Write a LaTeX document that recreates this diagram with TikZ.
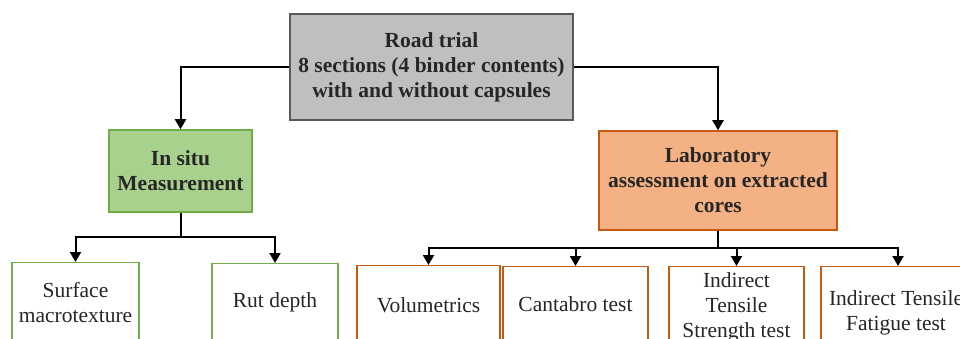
\documentclass[tikz,border=0pt]{standalone}
\usepackage{fontspec}
\setmainfont{Liberation Serif}
\usetikzlibrary{arrows.meta}
\definecolor{grayfill}{HTML}{BFBFBF}
\definecolor{grayline}{HTML}{595959}
\definecolor{greenfill}{HTML}{A9D18E}
\definecolor{greenline}{HTML}{70AD47}
\definecolor{orangefill}{HTML}{F4B183}
\definecolor{orangeline}{HTML}{C55A11}
\definecolor{txt}{HTML}{262626}
\begin{document}
\begin{tikzpicture}[x=1pt,y=-1pt,
  box/.style={draw, line width=1.5pt, inner sep=0pt, align=center, font=\bfseries\fontsize{21.5}{25}\selectfont, text=txt},
  leaf/.style={draw, line width=1.3pt, fill=white, inner sep=0pt, anchor=north},
  lbl/.style={align=center, font=\fontsize{21.5}{25}\selectfont, text=txt, inner sep=0pt},
  arr/.style={line width=2pt, -{Triangle[width=11pt,length=10pt]}},
  ln/.style={line width=2pt}]
\useasboundingbox (0,0) rectangle (960,339);
\clip (0,0) rectangle (960,339);
\node[box, fill=grayfill, draw=grayline, minimum width=283pt, minimum height=106pt] (road) at (431.5,67) {Road trial\\8 sections (4 binder contents)\\with and without capsules};
\node[box, fill=greenfill, draw=greenline, minimum width=143pt, minimum height=82pt] (insitu) at (180.5,171) {In situ\\Measurement};
\node[box, fill=orangefill, draw=orangeline, minimum width=238pt, minimum height=99pt] (lab) at (718,180.5) {Laboratory\\assessment on extracted\\cores};
% leaves
\node[leaf, draw=greenline, minimum width=127pt, minimum height=100pt] (surf) at (75.5,262) {};
\node[leaf, draw=greenline, minimum width=126pt, minimum height=100pt] (rut) at (275,263) {};
\node[leaf, draw=orangeline, minimum width=143pt, minimum height=100pt] (vol) at (428.5,265) {};
\node[leaf, draw=orangeline, minimum width=145pt, minimum height=100pt] (cant) at (575.5,266) {};
\node[leaf, draw=orangeline, minimum width=135pt, minimum height=100pt] (its) at (736.5,266) {};
\node[leaf, draw=orangeline, minimum width=154pt, minimum height=100pt] (itf) at (898,266) {};
% labels
\node[lbl] (tsurf) at (75.5,302.5) {Surface\\macrotexture};
\node[lbl] (trut) at (275,302) {Rut depth};
\node[lbl] (tvol) at (428.5,305) {Volumetrics};
\node[lbl] (tcant) at (575.5,304) {Cantabro test};
\node[lbl] (tits) at (736.5,307) {Indirect\\Tensile\\Strength test};
\node[lbl] (titf) at (896,312.5) {Indirect Tensile\\Fatigue test};
% connectors
\draw[arr] (road.west) -| (insitu.north);
\draw[arr] (road.east) -| (lab.north);
\coordinate (ij) at (180.5,237);
\draw[ln] (insitu.south) -- (ij);
\draw[arr] (ij) -| (surf.north);
\draw[arr] (ij) -| (rut.north);
\coordinate (lj) at (718,248);
\draw[ln] (lab.south) -- (lj);
\draw[arr] (lj) -| (vol.north);
\draw[arr] (lj) -| (cant.north);
\draw[arr] (lj) -| (its.north);
\draw[arr] (lj) -| (itf.north);
\end{tikzpicture}
\end{document}
